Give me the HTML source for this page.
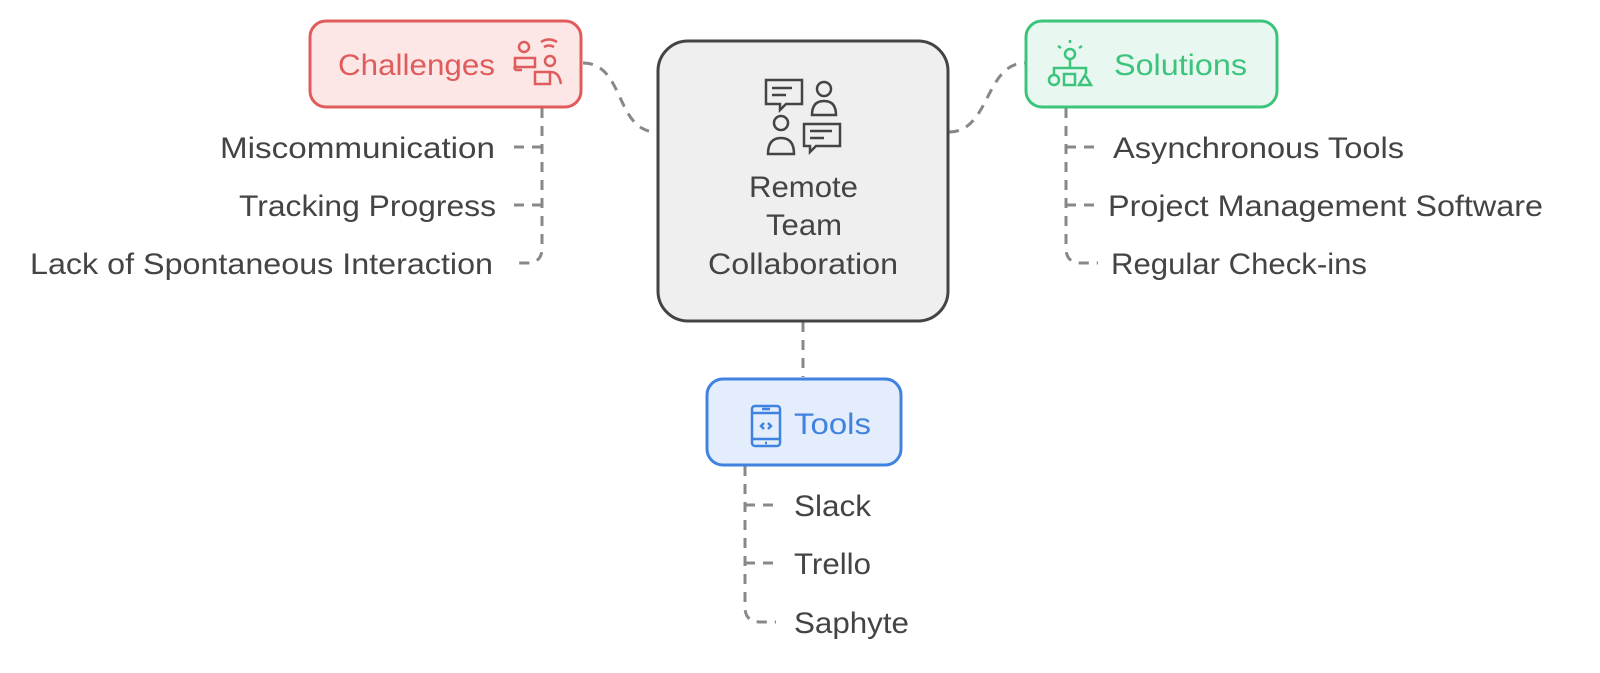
<!DOCTYPE html>
<html><head><meta charset="utf-8"><style>
html,body{margin:0;padding:0;background:#fff;}
svg{display:block}
text{font-family:"Liberation Sans",sans-serif;font-size:30px;fill:#444;}
</style></head><body>
<svg width="1600" height="673" viewBox="0 0 1600 673" xmlns="http://www.w3.org/2000/svg">
<g fill="none" stroke="#888" stroke-width="3" stroke-dasharray="10,8">
<path d="M583,63 C625,63 615,132 657,132"/>
<path d="M949,132 C990,132 985,63 1025,63"/>
<path d="M803,322 L803,377"/>
<path d="M542,108 L542,248 Q542,263 527,263 L512,263"/>
<path d="M542,147 L512,147"/><path d="M542,205 L512,205"/>
<path d="M1066,108 L1066,248 Q1066,263 1081,263 L1098,263"/>
<path d="M1066,147 L1098,147"/><path d="M1066,205 L1098,205"/>
<path d="M745,466 L745,607 Q745,622 760,622 L776,622"/>
<path d="M745,505 L776,505"/><path d="M745,563 L776,563"/>
</g>
<rect x="310" y="21" width="271" height="86" rx="16" fill="#fde6e6" stroke="#e05c5c" stroke-width="3"/>
<text x="338" y="75" style="fill:#e05c5c" textLength="157" lengthAdjust="spacingAndGlyphs">Challenges</text>
<g fill="none" stroke="#e05c5c" stroke-width="2.5">
<circle cx="524" cy="47" r="5"/><path d="M515,58 h20 v9 h-20z M516,65 q-3,3 0,5 h6"/>
<path d="M541,42 q8,-5 16,0 M544,47 q5,-3 10,0"/>
<circle cx="550" cy="61" r="5"/><path d="M535,72 h15 v12 h-15z M551,72 q8,0 10,12"/>
</g>
<rect x="658" y="41" width="290" height="280" rx="30" fill="#efefef" stroke="#444" stroke-width="3"/>
<g fill="none" stroke="#444" stroke-width="2.5">
<path d="M766,80 h36 v24 h-16 l-6,6 v-6 h-14z M772,88 h20 M772,95 h14"/>
<circle cx="824" cy="89" r="7"/><path d="M812,115 q0,-14 12,-14 q12,0 12,14z"/>
<circle cx="781" cy="123" r="7"/><path d="M768,154 q0,-16 13,-16 q13,0 13,16z"/>
<path d="M804,124 h36 v22 h-24 l-6,6 v-6 h-6z M810,131 h22 M810,138 h14"/>
</g>
<text x="749" y="197" textLength="109" lengthAdjust="spacingAndGlyphs">Remote</text>
<text x="766" y="235" textLength="76" lengthAdjust="spacingAndGlyphs">Team</text>
<text x="708" y="274" textLength="190" lengthAdjust="spacingAndGlyphs">Collaboration</text>
<rect x="1026" y="21" width="251" height="86" rx="16" fill="#e8f8f0" stroke="#3cc47c" stroke-width="3"/>
<g fill="none" stroke="#3cc47c" stroke-width="2.5">
<circle cx="1070" cy="54" r="5"/><path d="M1070,43 v-3 M1061,48 l-3,-2 M1079,48 l3,-2 M1070,59 v9 M1054,74 v-6 h32 v6"/>
<circle cx="1054" cy="80" r="5"/><rect x="1064" y="74" width="11" height="11"/><path d="M1079,85 l6,-10 l6,10z"/>
</g>
<text x="1114" y="75" style="fill:#3cc47c" textLength="133" lengthAdjust="spacingAndGlyphs">Solutions</text>
<rect x="707" y="379" width="194" height="86" rx="16" fill="#e3edfc" stroke="#3f82e0" stroke-width="3"/>
<g fill="none" stroke="#3f82e0" stroke-width="2.5">
<rect x="752" y="406" width="28" height="40" rx="3"/><path d="M752,413 h28 M752,439 h28 M762,409 h8 M765,443 h2 M764,423 l-3,3 l3,3 M768,423 l3,3 l-3,3"/>
</g>
<text x="794" y="434" style="fill:#3f82e0" textLength="77" lengthAdjust="spacingAndGlyphs">Tools</text>
<text x="220" y="158" textLength="275" lengthAdjust="spacingAndGlyphs">Miscommunication</text>
<text x="239" y="216" textLength="257" lengthAdjust="spacingAndGlyphs">Tracking Progress</text>
<text x="30" y="274" textLength="463" lengthAdjust="spacingAndGlyphs">Lack of Spontaneous Interaction</text>
<text x="1113" y="158" textLength="291" lengthAdjust="spacingAndGlyphs">Asynchronous Tools</text>
<text x="1108" y="216" textLength="435" lengthAdjust="spacingAndGlyphs">Project Management Software</text>
<text x="1111" y="274" textLength="256" lengthAdjust="spacingAndGlyphs">Regular Check-ins</text>
<text x="794" y="516" textLength="77" lengthAdjust="spacingAndGlyphs">Slack</text>
<text x="794" y="574" textLength="77" lengthAdjust="spacingAndGlyphs">Trello</text>
<text x="794" y="633" textLength="115" lengthAdjust="spacingAndGlyphs">Saphyte</text>
</svg>
</body></html>
